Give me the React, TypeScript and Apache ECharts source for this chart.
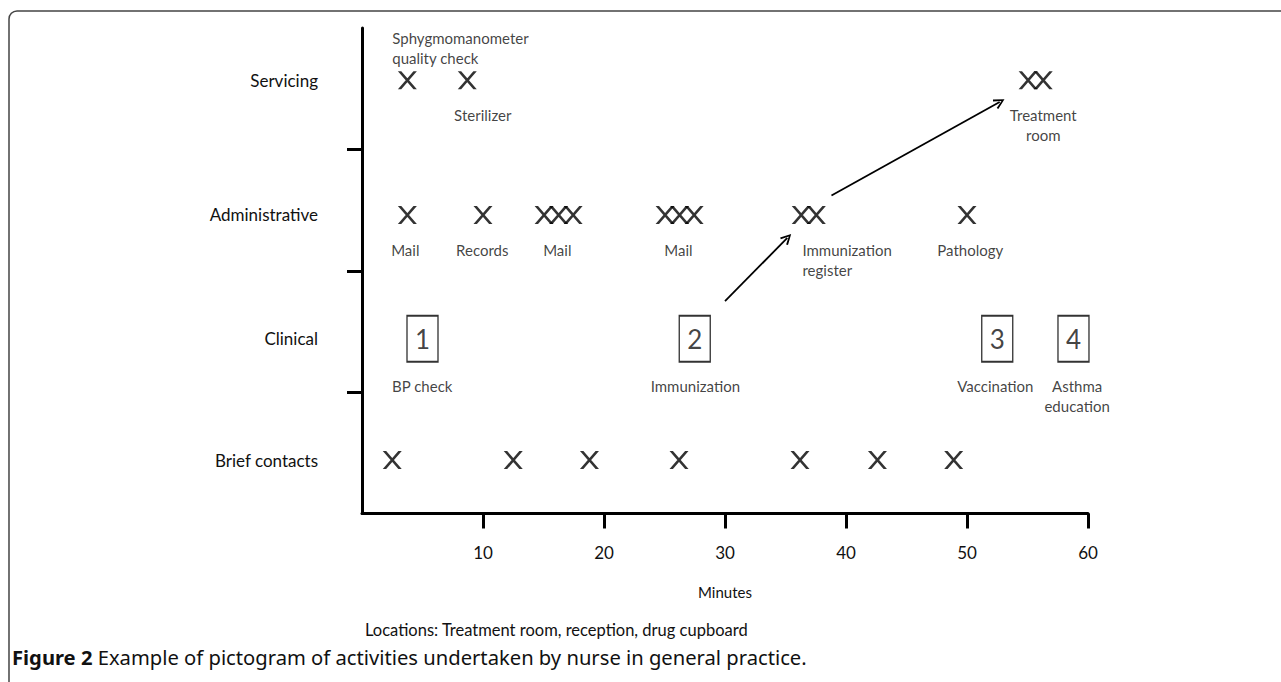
import React, { useEffect, useRef } from "react";
import * as echarts from "echarts";

// Rows (bottom to top) and their vertical levels on the 0–4 value axis
const rowNames = ["Brief contacts", "Clinical", "Administrative", "Servicing"];
const rowLevels = [0.44, 1.44, 2.46, 3.57];

// Minutes of each activity marker (X)
const servicingMinutes = [3.75, 8.7, 55.05, 56.3];
const administrativeMinutes = [3.75, 10.0, 15.05, 16.25, 17.45, 25.05, 26.25, 27.45, 36.3, 37.55, 50.0];
const briefMinutes = [2.5, 12.5, 18.8, 26.2, 36.2, 42.6, 48.9];

// Clinical tasks (boxed numbers)
const clinicalMinutes = [5.0, 27.5, 52.5, 58.8];
const clinicalNumbers = ["1", "2", "3", "4"];

// Notes: text, minute anchor, row index, side, alignment
const noteTexts = [
  "Sphygmomanometer\nquality check",
  "Sterilizer",
  "Treatment\nroom",
  "Mail",
  "Records",
  "Mail",
  "Mail",
  "Immunization\nregister",
  "Pathology",
  "BP check",
  "Immunization",
  "Vaccination",
  "Asthma\neducation",
];
const noteMinutes = [2.5, 9.98, 56.3, 3.58, 9.94, 16.14, 26.15, 36.4, 50.27, 4.98, 27.55, 52.34, 59.1];
const noteRows = [3, 3, 3, 2, 2, 2, 2, 2, 2, 1, 1, 1, 1];
const noteSides = ["above", "below", "below", "below", "below", "below", "below", "below", "below", "below", "below", "below", "below"];
const noteAligns = ["left", "center", "center", "center", "center", "center", "center", "left", "center", "center", "center", "center", "center"];

// Arrows: [from, to] in (minutes, level)
const arrowSegments = [
  [[30.0, 1.75], [35.15, 2.27]],
  [[38.8, 2.62], [52.7, 3.39]],
];

// Axis ticks
const xTickValues = [10, 20, 30, 40, 50, 60];
const yTickValues = [1, 2, 3];

const INK = "#111111";
const FONT = "Lato, 'Noto Sans', sans-serif";
const X_PATH = "path://M0,0L18,0L100,100L82,100Z M82,0L100,0L18,100L0,100Z";
const CHEVRON = "path://M0,10L5,0L10,10L8.4,10.9L5,3.4L1.6,10.9Z";

export default function App() {
  const ref = useRef<HTMLDivElement>(null);

  useEffect(() => {
    document.body.style.margin = "0";
    if (!ref.current) return;
    const chart = echarts.init(ref.current, undefined, { renderer: "svg" });

    const xSeriesData = [
      ...servicingMinutes.map((m) => [m, rowLevels[3]]),
      ...administrativeMinutes.map((m) => [m, rowLevels[2]]),
      ...briefMinutes.map((m) => [m, rowLevels[0]]),
    ];

    const notesData = noteTexts.map((t, i) => {
      const isClinical = noteRows[i] === 1;
      const below = noteSides[i] === "below";
      const dy = below ? (isClinical ? 37 : 25) : -12;
      return {
        value: [noteMinutes[i], rowLevels[noteRows[i]]],
        label: {
          show: true,
          formatter: t,
          position: [0.5, 0.5 + dy],
          align: noteAligns[i],
          verticalAlign: below ? "top" : "bottom",
        },
      };
    });

    const option: any = {
      animation: false,
      backgroundColor: "#ffffff",
      grid: { left: 362, right: 193, top: 28, bottom: 168.5, containLabel: false },
      xAxis: {
        type: "value",
        min: 0,
        max: 60,
        interval: 10,
        name: "Minutes",
        nameLocation: "middle",
        nameGap: 71,
        nameTextStyle: { fontSize: 15, color: INK, fontFamily: FONT },
        axisLine: { show: true, lineStyle: { color: "#000", width: 3 } },
        axisTick: { show: true, length: 15, lineStyle: { color: "#000", width: 3 }, customValues: xTickValues },
        axisLabel: { show: true, margin: 30, fontSize: 17, color: INK, fontFamily: FONT, customValues: xTickValues },
        splitLine: { show: false },
      },
      yAxis: {
        type: "value",
        min: 0,
        max: 4,
        interval: 1,
        axisLine: { show: true, lineStyle: { color: "#000", width: 3 } },
        axisTick: { show: true, length: 15, lineStyle: { color: "#000", width: 3 }, customValues: yTickValues },
        axisLabel: {
          show: true,
          margin: 44,
          fontSize: 17,
          color: INK,
          fontFamily: FONT,
          customValues: rowLevels,
          formatter: (v: number) => {
            let best = 0;
            rowLevels.forEach((l, i) => {
              if (Math.abs(l - v) < Math.abs(rowLevels[best] - v)) best = i;
            });
            return rowNames[best];
          },
        },
        splitLine: { show: false },
      },
      series: [
        {
          type: "scatter",
          symbol: X_PATH,
          symbolSize: [19, 18],
          itemStyle: { color: "#000" },
          data: xSeriesData,
          z: 3,
        },
        {
          type: "scatter",
          symbol: "rect",
          symbolSize: [31, 46],
          itemStyle: { color: "#ffffff", borderColor: "#000", borderWidth: 1.6 },
          label: {
            show: true,
            position: "inside",
            fontSize: 26,
            color: INK,
            fontFamily: FONT,
            formatter: (p: any) => clinicalNumbers[p.dataIndex],
          },
          data: clinicalMinutes.map((m) => [m, rowLevels[1]]),
          z: 3,
        },
        {
          type: "scatter",
          symbol: "circle",
          symbolSize: 1,
          itemStyle: { color: "rgba(0,0,0,0)" },
          label: { show: true, fontSize: 15, lineHeight: 20, color: INK, fontFamily: FONT },
          data: notesData,
          z: 4,
        },
        {
          type: "lines",
          coordinateSystem: "cartesian2d",
          symbol: ["none", CHEVRON],
          symbolSize: 11,
          lineStyle: { color: "#000", width: 1.8, curveness: 0, opacity: 1 },
          data: arrowSegments.map((s) => ({ coords: s })),
          z: 4,
        },
      ],
      graphic: [
        {
          type: "rect",
          shape: { x: 9, y: 11, width: 1320, height: 690, r: 8 },
          style: { fill: "none", stroke: "#444", lineWidth: 1.5 },
          silent: true,
        },
        {
          type: "text",
          left: 365,
          top: 621,
          style: {
            text: "Locations: Treatment room, reception, drug cupboard",
            fontSize: 16.5,
            fill: INK,
            fontFamily: FONT,
          },
        },
        {
          type: "text",
          left: 12,
          top: 647,
          style: {
            text: "{b|Figure 2} Example of pictogram of activities undertaken by nurse in general practice.",
            fontSize: 20.2,
            fill: INK,
            fontFamily: "'Noto Sans', sans-serif",
            rich: {
              b: { fontSize: 20.2, fontWeight: "bold", fill: INK, fontFamily: "'Noto Sans', sans-serif" },
            },
          },
        },
      ],
    };

    chart.setOption(option);
    return () => chart.dispose();
  }, []);

  return <div ref={ref} style={{ width: 1281, height: 682 }} />;
}
